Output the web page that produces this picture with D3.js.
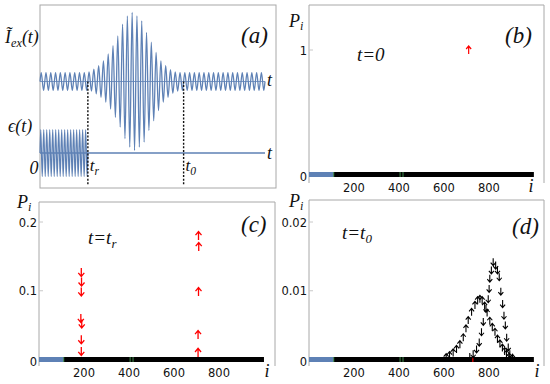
<!DOCTYPE html>
<html><head><meta charset="utf-8">
<script src="https://cdn.jsdelivr.net/npm/d3@7"></script>
<style>body{margin:0;background:#fff} svg{display:block}</style>
</head><body><svg id="c" width="550" height="384"></svg>
<script>
// ---------- data ----------
// panel (a): amplitude of each oscillation cycle of the excitation current (relative)
const exEnvelope = [0.13,0.13,0.13,0.13,0.13,0.13,0.13,0.13,0.13,0.13,
  0.14,0.18,0.23,0.30,0.40,0.52,0.66,0.83,0.95,1.00,
  0.95,0.88,0.71,0.57,0.42,0.30,0.23,0.17,0.14,0.13,
  0.13,0.13,0.13,0.13,0.13,0.13,0.13,0.13,0.13,0.13,
  0.13,0.13,0.13,0.13,0.13,0.13,0.13];
// panel (a): amplitude of each cycle of epsilon(t) before t_r
const epsAmplitude = [1,1,1,1,1,1,1,1,1,1,1,1,1,1,1,1];
const markTimes = [10, 30];
const markSubs = ["r", "0"];

// panels (b)-(d): sites
const reservoirSites = [0, 110];
const chainSites = [110, 1000];
const greenSites = [110, 405, 418];
const xTicks = [200, 400, 600, 800];

// (b) t = 0
const bUpSites = [710];
const bUpValues = [1];
const bYTicks = [0, 1];

// (c) t = t_r
const cDownSites = [188, 189, 188, 186, 190, 188, 188];
const cDownValues = [0.127, 0.113, 0.0985, 0.060, 0.052, 0.029, 0.012];
const cUpSites = [709, 710, 709, 707, 707];
const cUpValues = [0.180, 0.164, 0.0985, 0.036, 0.010];
const cYTicks = [0, 0.1, 0.2];

// (d) t = t_0
const dUpSites = [610,625,641,656,671,686,698,708,723,738,750,760,770,781,792,804,815,827,838,849,860,870,878,890,905];
const dUpValues = [0.0003,0.0006,0.001,0.0015,0.0022,0.0032,0.0045,0.0057,0.0069,0.0079,0.0086,0.0088,0.0086,0.0078,0.0068,0.0056,0.0047,0.004,0.003,0.0023,0.0017,0.0012,0.0008,0.0004,0.0002];
const dDownSites = [715,730,745,757,767,775,787,797,801,804,811,819,830,838,846,853,861,867,873,879,886,893,905];
const dDownValues = [0.0004,0.0008,0.0015,0.0025,0.004,0.0055,0.0074,0.0088,0.0103,0.0118,0.013,0.0142,0.0137,0.013,0.012,0.0099,0.0081,0.0064,0.005,0.0032,0.0018,0.0008,0.0003];
const dYTicks = [0, 0.01, 0.02];
const redSites = [725];

// ---------- drawing ----------
const svg = d3.select("#c");
const BLUE = "#5E81B5", FRAME = "#a8a8a8";
const SERIF = "'Liberation Serif','DejaVu Serif',serif";
const SANS = "'DejaVu Sans',sans-serif";

function label(x, y, parts, size, anchor, subShift) {
  const sd = subShift === undefined ? 4 : subShift;
  const t = svg.append("text").attr("x", x).attr("y", y)
    .attr("font-family", SERIF).attr("font-style", "italic")
    .attr("font-size", size).attr("fill", "#111")
    .attr("text-anchor", anchor || "start");
  let shift = 0;
  parts.forEach(p => {
    const sub = p.sub;
    const dy = sub ? sd - shift : -shift;
    shift = sub ? sd : 0;
    t.append("tspan").attr("dy", dy).attr("font-size", sub ? size * 0.68 : size).text(p.t);
  });
  return t;
}

// ===== panel (a) =====
svg.append("rect").attr("x", 40).attr("y", 5).attr("width", 236).attr("height", 183)
  .attr("fill", "none").attr("stroke", FRAME);
const xA = d3.scaleLinear().domain([0, exEnvelope.length]).range([40, 265]);
const yI = d3.scaleLinear().domain([-1, 1]).range([81.5 + 69, 81.5 - 69]);
const yE = d3.scaleLinear().domain([-1, 1]).range([153 + 23.5, 153 - 23.5]);

// baselines
svg.append("line").attr("x1", xA(0)).attr("x2", xA(exEnvelope.length))
  .attr("y1", yI(0)).attr("y2", yI(0)).attr("stroke", BLUE).attr("stroke-width", 0.8);
svg.append("line").attr("x1", xA(0)).attr("x2", xA(exEnvelope.length))
  .attr("y1", yE(0)).attr("y2", yE(0)).attr("stroke", BLUE).attr("stroke-width", 1.5);

const exPts = [[0, 0]];
exEnvelope.forEach((a, k) => { exPts.push([k + 0.25, a]); exPts.push([k + 0.75, -a]); });
exPts.push([exEnvelope.length, 0]);
const lineI = d3.line().x(d => xA(d[0])).y(d => yI(d[1])).curve(d3.curveMonotoneX);
svg.append("path").attr("d", lineI(exPts)).attr("fill", "none")
  .attr("stroke", BLUE).attr("stroke-width", 1.3);

const epsDur = markTimes[0];
const nE = epsAmplitude.length;
const ePts = [[0, 0]];
epsAmplitude.forEach((a, k) => {
  ePts.push([(k + 0.25) * epsDur / nE, a]);
  ePts.push([(k + 0.75) * epsDur / nE, -a]);
});
ePts.push([epsDur, 0]);
const lineE = d3.line().x(d => xA(d[0])).y(d => yE(d[1])).curve(d3.curveMonotoneX);
svg.append("path").attr("d", lineE(ePts)).attr("fill", "none")
  .attr("stroke", BLUE).attr("stroke-width", 1.2);

markTimes.forEach((t, i) => {
  svg.append("line").attr("x1", xA(t)).attr("x2", xA(t))
    .attr("y1", yI(0)).attr("y2", 186).attr("stroke", "#111")
    .attr("stroke-width", 1.4).attr("stroke-dasharray", "2,1.6");
  label(xA(t) + 2, 171, [{t: "t"}, {t: markSubs[i], sub: true}], 17);
});
label(5, 43, [{t: "\u0128"}, {t: "ex", sub: true}, {t: "(t)"}], 18);
label(8, 132, [{t: "\u03F5(t)"}], 18);
label(34, 174, [{t: "0"}], 18, "middle");
label(267, 86, [{t: "t"}], 18);
label(267, 159, [{t: "t"}], 18);
label(241, 43, [{t: "(a)"}], 23);

// ===== helper for P_i panels =====
function arrowPath(x, y, dir, h, w) {
  // dir = -1 for up, +1 for down
  const tip = y + dir * h / 2, tail = y - dir * h / 2;
  const back = tip - dir * w * 0.6;
  return `M${x},${tail}L${x},${tip}M${x - w / 2},${back}L${x},${tip}L${x + w / 2},${back}`;
}

function pPanel(o) {
  const x = d3.scaleLinear().domain([0, o.iMax]).range([o.left, o.right]);
  const y = d3.scaleLinear().domain([0, o.yTop]).range([o.y0, o.yTopPx]);
  const g = svg.append("g");
  // frame (left, top, right)
  g.append("path").attr("d", `M${o.left},${o.bottom}V${o.top}H${o.right}V${o.bottom}`)
    .attr("fill", "none").attr("stroke", FRAME);
  // y ticks
  o.yTicks.forEach((t, i) => {
    g.append("line").attr("x1", o.left).attr("x2", o.left + 4).attr("y1", y(t)).attr("y2", y(t))
      .attr("stroke", "#c8c8c8");
    g.append("text").attr("x", o.left - 2).attr("y", y(t) + 4.5 + (t === 0 ? 2 : 0))
      .attr("text-anchor", "end").attr("font-family", SANS).attr("font-size", 11.5)
      .attr("fill", "#111").text(o.yLabels[i]);
  });
  // x ticks labels
  xTicks.forEach(t => {
    g.append("text").attr("x", x(t)).attr("y", o.y0 + 17).attr("text-anchor", "middle")
      .attr("font-family", SANS).attr("font-size", 11.5).attr("fill", "#111").text(t);
  });
  // zero bar: reservoir and chain markers
  g.append("line").attr("x1", x(reservoirSites[0])).attr("x2", x(reservoirSites[1]))
    .attr("y1", y(0)).attr("y2", y(0)).attr("stroke", BLUE).attr("stroke-width", 5);
  g.append("line").attr("x1", x(chainSites[0])).attr("x2", x(chainSites[1]))
    .attr("y1", y(0)).attr("y2", y(0)).attr("stroke", "#000").attr("stroke-width", 5);
  greenSites.forEach(s => g.append("line").attr("x1", x(s)).attr("x2", x(s))
    .attr("y1", y(0) - 2.5).attr("y2", y(0) + 2.5).attr("stroke", "#3d8a4a").attr("stroke-width", 1));
  (o.red || []).forEach(s => g.append("line").attr("x1", x(s)).attr("x2", x(s) + 1.5)
    .attr("y1", y(0)).attr("y2", y(0)).attr("stroke", "#b00").attr("stroke-width", 5));
  // arrows
  o.series.forEach(s => {
    s.sites.forEach((site, i) => {
      g.append("path").attr("d", arrowPath(x(site), y(s.values[i]), s.dir, s.h, s.w))
        .attr("fill", "none").attr("stroke", s.color).attr("stroke-width", s.sw);
    });
  });
  // labels
  label(o.pLabel[0], o.pLabel[1], [{t: "P"}, {t: "i", sub: true}], 18, "start", 3);
  label(o.iLabel[0], o.y0 + 17, [{t: "i"}], 18, "middle");
  label(o.tLabel[0], o.tLabel[1], o.tParts, 19);
  label(o.letter[0], o.letter[1], [{t: o.letter[2]}], 23);
}

pPanel({left: 309, right: 544, top: 5, bottom: 183, iMax: 1045,
  y0: 174.5, yTop: 1, yTopPx: 50, yTicks: bYTicks, yLabels: ["0", "1"],
  series: [{sites: bUpSites, values: bUpValues, dir: -1, h: 8, w: 5, sw: 1.2, color: "#f00"}],
  pLabel: [289, 27], iLabel: [531], tLabel: [357, 61], tParts: [{t: "t=0"}],
  letter: [505, 43, "(b)"]});

pPanel({left: 39, right: 275, top: 202, bottom: 366, iMax: 1049,
  y0: 359.5, yTop: 0.2, yTopPx: 222, yTicks: cYTicks, yLabels: ["0", "0.1", "0.2"],
  series: [
    {sites: cDownSites, values: cDownValues, dir: 1, h: 8.5, w: 6, sw: 1.3, color: "#f00"},
    {sites: cUpSites, values: cUpValues, dir: -1, h: 8.5, w: 6, sw: 1.3, color: "#f00"}],
  pLabel: [17, 208], iLabel: [267], tLabel: [88, 244], tParts: [{t: "t=t"}, {t: "r", sub: true}],
  letter: [241, 232, "(c)"]});

pPanel({left: 309, right: 544, top: 200, bottom: 366, iMax: 1045,
  y0: 359.5, yTop: 0.02, yTopPx: 222, yTicks: dYTicks, yLabels: ["0", "0.01", "0.02"],
  red: redSites,
  series: [
    {sites: dUpSites, values: dUpValues, dir: -1, h: 7.5, w: 5, sw: 1.1, color: "#000"},
    {sites: dDownSites, values: dDownValues, dir: 1, h: 7.5, w: 5, sw: 1.1, color: "#000"}],
  pLabel: [289, 207], iLabel: [537], tLabel: [342, 239], tParts: [{t: "t=t"}, {t: "0", sub: true}],
  letter: [512, 234, "(d)"]});
</script></body></html>
